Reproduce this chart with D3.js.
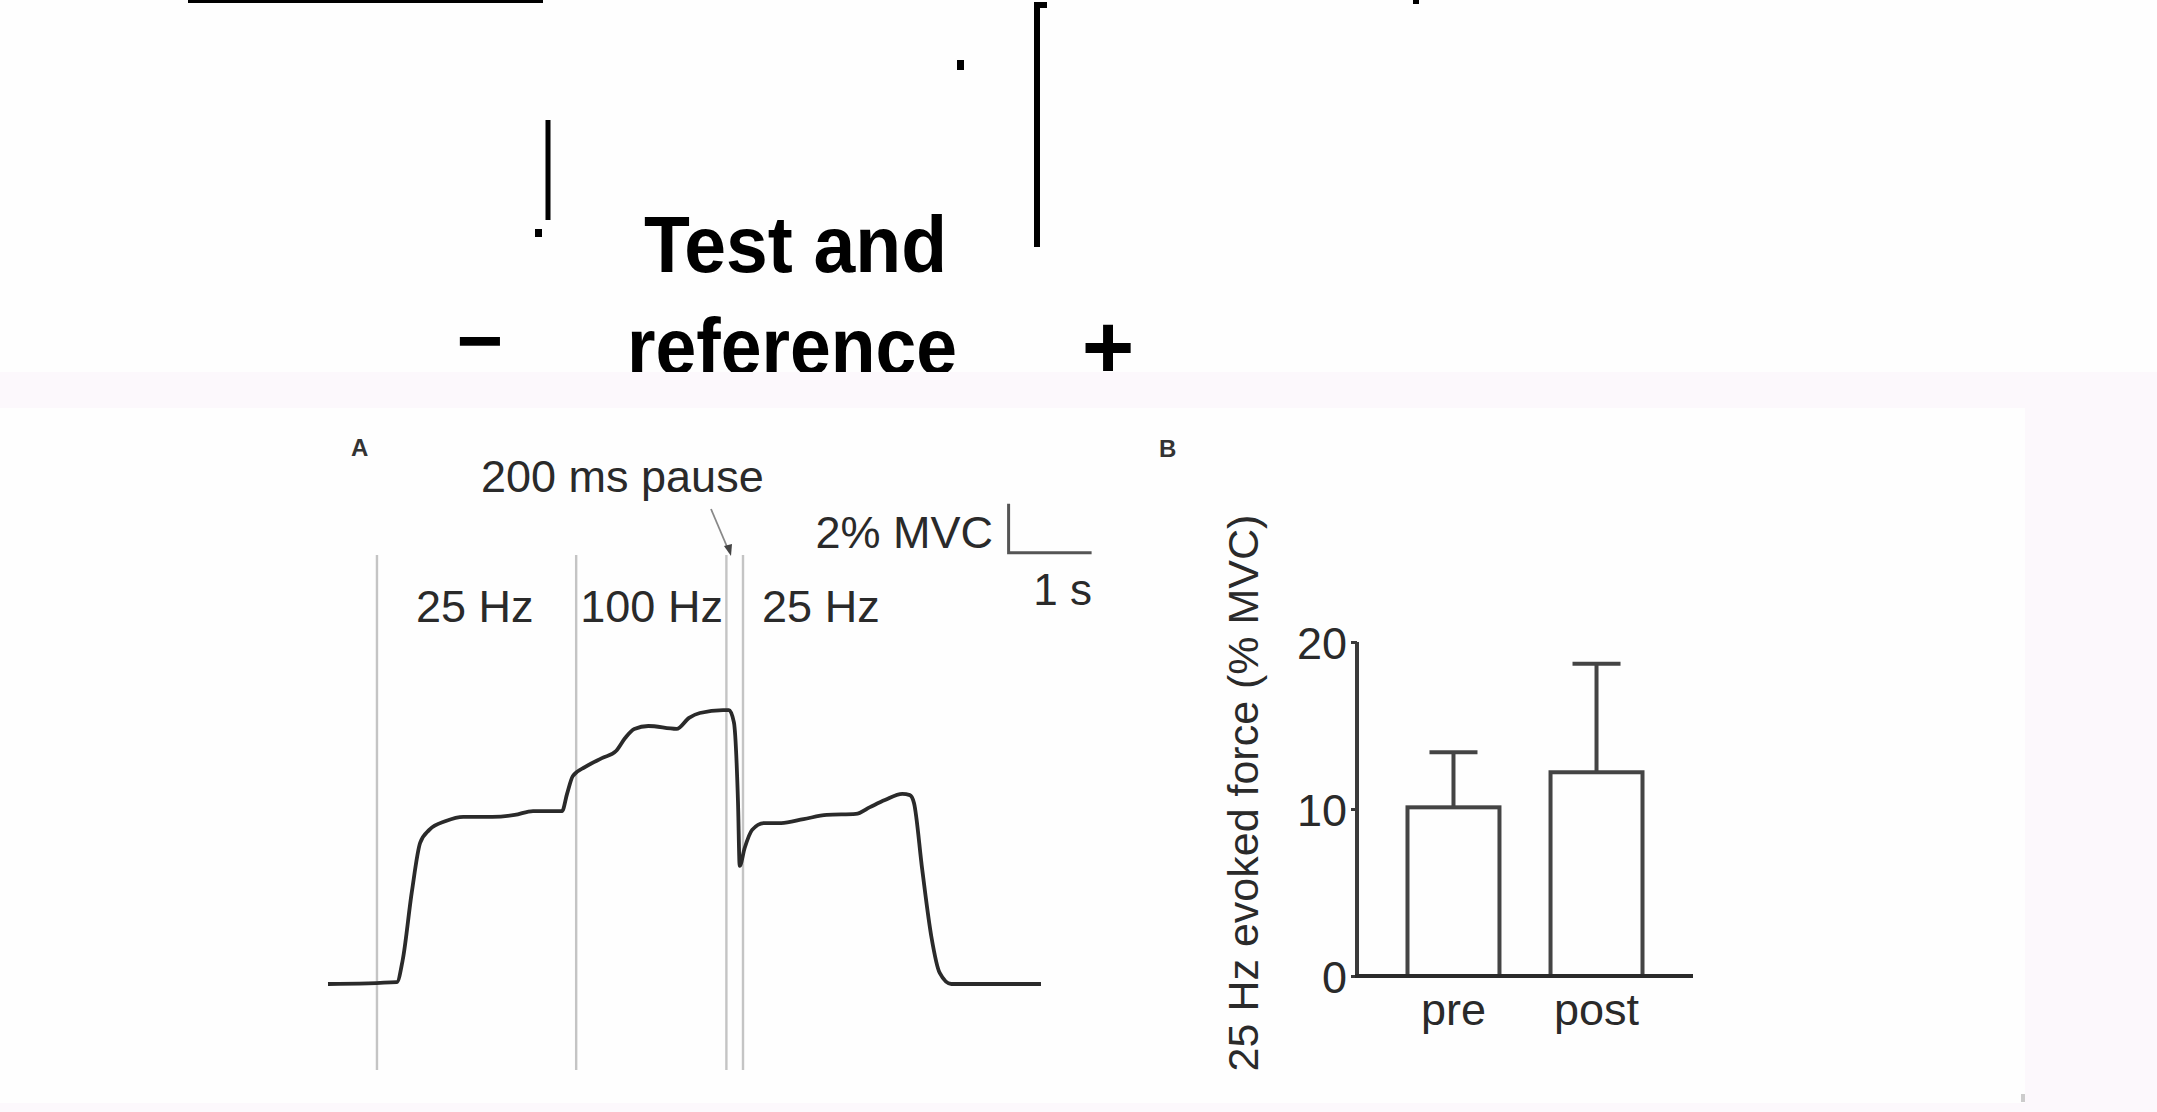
<!DOCTYPE html>
<html>
<head>
<meta charset="utf-8">
<script src="https://cdn.jsdelivr.net/npm/d3@7"></script>
<style>
  html, body { margin: 0; padding: 0; background: #fefefe; }
  svg { display: block; }
  text { font-family: "Liberation Sans", Arial, sans-serif; }
</style>
</head>
<body>
<svg id="chart" width="2157" height="1112"></svg>
<script>
// ---------- Data ----------
// Panel A: force trace (time in s, force in % MVC)
const traceTime  = [0, 0.83, 0.90, 1.01, 1.11, 1.22, 1.42, 1.63, 1.98, 2.25, 2.47, 2.82, 2.88, 2.95, 3.10, 3.30, 3.47, 3.58, 3.69, 3.86, 4.20, 4.35, 4.48, 4.76, 4.83, 4.89, 4.94, 4.96, 5.02, 5.11, 5.25, 5.46, 5.73, 6.01, 6.36, 6.53, 6.71, 6.92, 7.01, 7.06, 7.16, 7.27, 7.37, 7.51, 8.59];
const traceForce = [0, 0.08, 0.98, 3.76, 5.76, 6.29, 6.65, 6.82, 6.82, 6.90, 7.06, 7.06, 7.76, 8.49, 8.86, 9.22, 9.51, 10.04, 10.41, 10.53, 10.41, 10.86, 11.06, 11.18, 11.18, 10.69, 7.39, 4.82, 5.55, 6.29, 6.57, 6.57, 6.73, 6.90, 6.94, 7.22, 7.51, 7.76, 7.71, 7.39, 4.65, 1.92, 0.45, 0, 0];
const eventTimes = [0.59, 2.99, 4.80, 5.00];
const freqLabels = ["25 Hz", "100 Hz", "25 Hz"];
const freqLabelTimes = [1.06, 3.04, 5.23];
const scaleBarTime = 1;      // s
const scaleBarForce = 2;     // % MVC

// Panel B: 25 Hz evoked force
const categories = ["pre", "post"];
const means = [10.1, 12.2];
const errors = [3.3, 6.5];
const yTicks = [0, 10, 20];

// ---------- Drawing ----------
const svg = d3.select("#chart");
const ink = "#2a2a2a";

// top fragment area
const gTop = svg.append("g");
gTop.append("rect").attr("x", 188).attr("y", 0).attr("width", 355).attr("height", 3).attr("fill", "#000");
gTop.append("rect").attr("x", 1413).attr("y", 0).attr("width", 6).attr("height", 4).attr("fill", "#000");
gTop.append("rect").attr("x", 957).attr("y", 60).attr("width", 7).attr("height", 10).attr("fill", "#000");
gTop.append("line").attr("x1", 548).attr("x2", 548).attr("y1", 120).attr("y2", 220).attr("stroke", "#000").attr("stroke-width", 5);
gTop.append("rect").attr("x", 535).attr("y", 229).attr("width", 7).attr("height", 8).attr("fill", "#000");
gTop.append("path").attr("d", "M1047,5 H1037 V247").attr("fill", "none").attr("stroke", "#000").attr("stroke-width", 6);
gTop.append("text").attr("x", 644).attr("y", 272).attr("font-size", 80).attr("font-weight", "bold")
  .attr("textLength", 303).attr("lengthAdjust", "spacingAndGlyphs").attr("fill", "#000").text("Test and");
gTop.append("text").attr("x", 627).attr("y", 374).attr("font-size", 80).attr("font-weight", "bold")
  .attr("textLength", 330).attr("lengthAdjust", "spacingAndGlyphs").attr("fill", "#000").text("reference");
gTop.append("text").attr("x", 480).attr("y", 368).attr("font-size", 80).attr("font-weight", "bold")
  .attr("text-anchor", "middle").attr("fill", "#000").text("−");
gTop.append("text").attr("x", 1108).attr("y", 378).attr("font-size", 90).attr("font-weight", "bold")
  .attr("text-anchor", "middle").attr("fill", "#000").text("+");

// figure panel backgrounds
svg.append("rect").attr("x", 0).attr("y", 372).attr("width", 2157).attr("height", 740).attr("fill", "#fcf8fc");
svg.append("rect").attr("x", 0).attr("y", 408).attr("width", 2025).attr("height", 695).attr("fill", "#fefefe");
svg.append("rect").attr("x", 2021).attr("y", 1094).attr("width", 4).attr("height", 8).attr("fill", "#cccccc");

// ---------- Panel A ----------
const gA = svg.append("g");
const xT = d3.scaleLinear().domain([0, 8.59]).range([328, 328 + 8.59 * 83]);
const yT = d3.scaleLinear().domain([0, 2]).range([984, 935]);

gA.append("text").attr("x", 351).attr("y", 456).attr("font-size", 24).attr("font-weight", "bold")
  .attr("fill", "#333").text("A");

gA.selectAll("line.event").data(eventTimes).join("line").attr("class", "event")
  .attr("x1", d => xT(d)).attr("x2", d => xT(d))
  .attr("y1", 555).attr("y2", 1070)
  .attr("stroke", "#c4c4c4").attr("stroke-width", 2.4);

const traceData = traceTime.map((t, i) => [t, traceForce[i]]);
gA.append("path").datum(traceData)
  .attr("d", d3.line().x(d => xT(d[0])).y(d => yT(d[1])).curve(d3.curveMonotoneX))
  .attr("fill", "none").attr("stroke", ink).attr("stroke-width", 3.8).attr("stroke-linejoin", "round");

gA.selectAll("text.freq").data(freqLabels).join("text").attr("class", "freq")
  .attr("x", (d, i) => xT(freqLabelTimes[i])).attr("y", 622)
  .attr("font-size", 45).attr("fill", ink).text(d => d);

// pause annotation
gA.append("text").attr("x", 481).attr("y", 492).attr("font-size", 45).attr("fill", ink).text("200 ms pause");
gA.append("line").attr("x1", 711).attr("y1", 509).attr("x2", 728).attr("y2", 549)
  .attr("stroke", "#888").attr("stroke-width", 1.8);
gA.append("path").attr("d", "M724,546 L731,556 L732,544 Z").attr("fill", "#444");

// scale bar
const sbT0 = 8.2, sbF0 = 17.6;
gA.append("path")
  .attr("d", `M${xT(sbT0)},${yT(sbF0 + scaleBarForce)} V${yT(sbF0)} H${xT(sbT0 + scaleBarTime)}`)
  .attr("fill", "none").attr("stroke", "#555").attr("stroke-width", 3);
gA.append("text").attr("x", 993).attr("y", 548).attr("font-size", 45).attr("text-anchor", "end")
  .attr("fill", ink).text(scaleBarForce + "% MVC");
gA.append("text").attr("x", 1092).attr("y", 605).attr("font-size", 44).attr("text-anchor", "end")
  .attr("fill", ink).text(scaleBarTime + " s");

// ---------- Panel B ----------
const gB = svg.append("g");
gB.append("text").attr("x", 1159).attr("y", 457).attr("font-size", 24).attr("font-weight", "bold")
  .attr("fill", "#333").text("B");

const yB = d3.scaleLinear().domain([0, 20]).range([976, 642]);
const xB = d3.scaleBand().domain(categories).range([1357, 1693]).paddingInner(0.357).paddingOuter(0.353);

// y axis
const yAxis = d3.axisLeft(yB).tickValues(yTicks).tickSize(6).tickPadding(4).tickFormat(d3.format("d"));
const yAxisG = gB.append("g").attr("transform", "translate(1357,0)").call(yAxis);
yAxisG.select(".domain").attr("stroke", "#3a3a3a").attr("stroke-width", 4).attr("d", `M0,${yB(20)} V${yB(0)}`);
yAxisG.selectAll(".tick line").attr("stroke", "#3a3a3a").attr("stroke-width", 3);
yAxisG.selectAll(".tick text").attr("font-size", 45).attr("fill", ink)
  .attr("font-family", '"Liberation Sans", Arial, sans-serif').attr("dy", "0.36em");

gB.append("text").attr("transform", "translate(1258,793) rotate(-90)")
  .attr("text-anchor", "middle").attr("font-size", 43).attr("fill", ink)
  .text("25 Hz evoked force (% MVC)");

// error bars
const bw = xB.bandwidth();
categories.forEach((c, i) => {
  const cx = xB(c) + bw / 2;
  gB.append("line").attr("x1", cx).attr("x2", cx).attr("y1", yB(means[i])).attr("y2", yB(means[i] + errors[i]))
    .attr("stroke", "#444").attr("stroke-width", 4);
  gB.append("line").attr("x1", cx - 24).attr("x2", cx + 24).attr("y1", yB(means[i] + errors[i])).attr("y2", yB(means[i] + errors[i]))
    .attr("stroke", "#444").attr("stroke-width", 4);
});

// bars
gB.selectAll("rect.bar").data(categories).join("rect").attr("class", "bar")
  .attr("x", d => xB(d)).attr("width", bw)
  .attr("y", (d, i) => yB(means[i])).attr("height", (d, i) => yB(0) - yB(means[i]))
  .attr("fill", "#fefefe").attr("stroke", "#444").attr("stroke-width", 4);

// x axis
const xAxis = d3.axisBottom(xB).tickSize(0).tickPadding(17);
const xAxisG = gB.append("g").attr("transform", `translate(0,${yB(0)})`).call(xAxis);
xAxisG.select(".domain").attr("stroke", "#2a2a2a").attr("stroke-width", 4).attr("d", `M1355,0 H1693`);
xAxisG.selectAll(".tick text").attr("font-size", 45).attr("fill", ink)
  .attr("font-family", '"Liberation Sans", Arial, sans-serif');
</script>
</body>
</html>
